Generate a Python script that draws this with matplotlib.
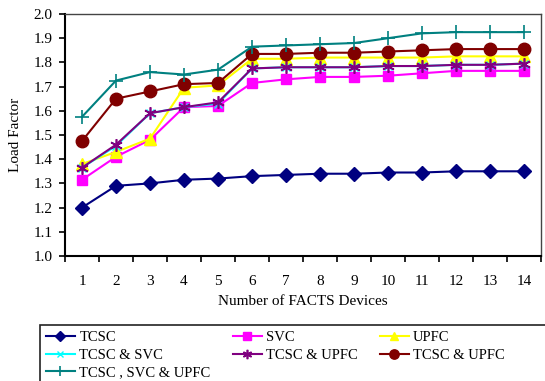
import numpy as np
import matplotlib.pyplot as plt
from matplotlib.patches import Rectangle

plt.rcParams['font.family'] = ['Liberation Serif', 'DejaVu Serif']

# data
devices = list(range(1, 15))
tcsc = [1.20, 1.29, 1.30, 1.315, 1.32, 1.33, 1.335, 1.34, 1.34, 1.345, 1.345, 1.35, 1.35, 1.35]
svc = [1.315, 1.41, 1.48, 1.615, 1.62, 1.715, 1.73, 1.74, 1.74, 1.745, 1.755, 1.765, 1.765, 1.765]
upfc = [1.38, 1.43, 1.485, 1.695, 1.705, 1.815, 1.815, 1.82, 1.82, 1.82, 1.82, 1.825, 1.825, 1.825]
tcsc_svc = [1.365, 1.455, 1.59, 1.615, 1.63, 1.775, 1.78, 1.78, 1.78, 1.785, 1.785, 1.79, 1.79, 1.795]
tcsc_upfc = [1.365, 1.46, 1.59, 1.615, 1.635, 1.775, 1.78, 1.78, 1.78, 1.785, 1.785, 1.79, 1.79, 1.795]
tcsc_upfc2 = [1.475, 1.65, 1.68, 1.71, 1.715, 1.835, 1.835, 1.84, 1.84, 1.845, 1.85, 1.855, 1.855, 1.855]
all_three = [1.575, 1.725, 1.76, 1.75, 1.77, 1.865, 1.87, 1.875, 1.88, 1.90, 1.92, 1.925, 1.925, 1.925]

fig = plt.figure(figsize=(5.45, 3.81), dpi=100)
ax = fig.add_axes([65 / 545, 1 - 256 / 381, 476 / 545, 242 / 381])

h1, = ax.plot(devices, tcsc, color='#000080', marker='D', ms=7, lw=1.5, label='TCSC')
h2, = ax.plot(devices, svc, color='#FF00FF', marker='s', ms=7, lw=1.5, label='SVC')
h3, = ax.plot(devices, upfc, color='#FFFF00', marker='^', ms=8, lw=1.5, label='UPFC')
h4, = ax.plot(devices, tcsc_svc, color='#00FFFF', marker='x', ms=6, lw=1.5, label='TCSC & SVC')
h5, = ax.plot(devices, tcsc_upfc, color='#800080', marker=(6, 2, 0), ms=9, mew=1.2, lw=1.5,
              label='TCSC & UPFC')
h6, = ax.plot(devices, tcsc_upfc2, color='#800000', marker='o', ms=9, lw=1.5, label='TCSC & UPFC')
h7, = ax.plot(devices, all_three, color='#008080', marker='+', ms=10, mew=1.2, lw=1.5,
              label='TCSC , SVC & UPFC')

ax.set_xlim(0.5, 14.5)
ax.set_ylim(1.0, 2.0)
ax.set_yticks(np.arange(1.0, 2.01, 0.1))
ax.set_yticklabels([f'{v:.1f}' for v in np.arange(1.0, 2.01, 0.1)])
ax.set_xticks(np.arange(0.5, 14.6, 1))
ax.set_xticklabels([])
ax.set_xticks(devices, minor=True)
ax.set_xticklabels([str(d) for d in devices], minor=True)
ax.tick_params(axis='x', which='minor', length=0, pad=14, labelsize=11)
ax.tick_params(axis='x', which='major', direction='out', length=4, width=1.2)
ax.tick_params(axis='y', direction='out', length=4, width=1.2, labelsize=11, pad=5)

for s in ['left', 'bottom']:
    ax.spines[s].set_linewidth(1.5)
for s in ['top', 'right']:
    ax.spines[s].set_color('#444444')
    ax.spines[s].set_linewidth(1.0)

ax.set_xlabel('Number of FACTS Devices', fontsize=11, labelpad=5)
ax.set_ylabel('Load Factor', fontsize=11, labelpad=8)

fig.patches.append(Rectangle((40 / 545, -0.05), 0.95, 1 - 325 / 381 + 0.05,
                             transform=fig.transFigure, fill=False,
                             edgecolor='#222222', lw=1.2))
# column-major order so the legend reads row by row like the reference
handles = [h1, h4, h7, h2, h5, h3, h6]
fig.legend(handles, [h.get_label() for h in handles],
           loc='upper left', bbox_to_anchor=(40 / 545, 1 - 325 / 381), ncol=3,
           frameon=False, fontsize=10.5, handlelength=2.0, handletextpad=0.3,
           columnspacing=1.5, labelspacing=0.3, borderaxespad=0, borderpad=0.4,
           markerscale=0.75)

fig.savefig('out.png', dpi=100)
